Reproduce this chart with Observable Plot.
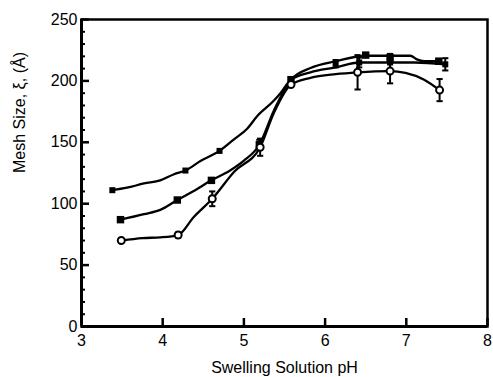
<!DOCTYPE html>
<html><head><meta charset="utf-8">
<script src="https://cdn.jsdelivr.net/npm/d3@7"></script>
<script src="https://cdn.jsdelivr.net/npm/@observablehq/plot@0.6"></script>
<style>body{margin:0;background:#fff}</style>
</head><body><div id="chart"></div>
<script>
// ---- data ----
// Series A (small filled squares)
const phA   = [3.38, 4.28, 4.70, 5.58, 6.13, 6.42, 6.80, 7.48];
const meshA = [111, 127, 143, 201, 214, 215, 215, 213.5];
const errA  = [0, 0, 0, 0, 3, 4, 0, 5];
const linePhA   = [3.38, 3.56, 3.77, 3.97, 4.14, 4.28, 4.47, 4.70, 4.87, 5.04, 5.16, 5.37, 5.45, 5.58, 5.82, 6.13, 6.42, 6.80, 7.10, 7.48];
const lineMeshA = [111, 113, 116.5, 119, 124, 127, 135, 143, 152, 161, 171, 184, 190, 201, 207, 211, 215, 215, 215, 213.5];
// Series B (filled squares)
const phB   = [3.48, 4.18, 4.60, 5.19, 5.58, 6.50, 6.80, 7.40];
const meshB = [87, 103, 119, 148, 201, 221, 219, 216];
const errB  = [0, 0, 0, 4, 0, 0, 3, 2];
const linePhB   = [3.48, 3.77, 3.97, 4.18, 4.40, 4.60, 4.83, 5.00, 5.19, 5.37, 5.58, 5.82, 6.13, 6.50, 6.80, 7.05, 7.13, 7.22, 7.40];
const lineMeshB = [87, 91.5, 95, 103, 111, 119, 127, 135, 148, 176, 201, 210.5, 216, 220.5, 220.5, 220.5, 217.5, 216, 216];
// Series C (open circles)
const phC   = [3.49, 4.19, 4.61, 5.20, 5.58, 6.40, 6.80, 7.41];
const meshC = [70, 74.5, 104, 146, 197, 207, 208, 192.5];
const errC  = [0, 2, 6, 7, 0, 14, 10, 9];
const linePhC   = [3.49, 3.75, 3.97, 4.19, 4.38, 4.61, 4.88, 5.20, 5.37, 5.58, 5.82, 6.13, 6.40, 6.80, 6.99, 7.22, 7.41];
const lineMeshC = [70, 72, 72.6, 74.5, 89, 104, 126, 146, 174, 197, 202.5, 205.5, 207, 208, 206.5, 201, 192.5];

const xTicks = [3, 4, 5, 6, 7, 8];
const yTicks = [0, 50, 100, 150, 200, 250];
const yMinor = [10, 20, 30, 40, 60, 70, 80, 90, 110, 120, 130, 140, 160, 170, 180, 190, 210, 220, 230, 240];
const xLabel = "Swelling Solution pH";
const yLabel = "Mesh Size, ξ, (Å)";

// ---- build tables ----
const pts = (ph, mesh, err, s) => ph.map((p, i) => ({ph: p, mesh: mesh[i], err: err[i], s}));
const A = pts(phA, meshA, errA, "A"), B = pts(phB, meshB, errB, "B"), C = pts(phC, meshC, errC, "C");
const ln = (ph, mesh, s) => ph.map((p, i) => ({ph: p, mesh: mesh[i], s}));
const lines = [...ln(linePhA, lineMeshA, "A"), ...ln(linePhB, lineMeshB, "B"), ...ln(linePhC, lineMeshC, "C")];
const errs = [...A, ...B, ...C].filter(d => d.err > 0);

const W = 493, H = 377, mL = 81, mR = 6, mT = 19, mB = 51;
const plotW = W - mL - mR, plotH = H - mT - mB;
const cap = {draw(ctx, size) { const w = Math.sqrt(size) / 2; ctx.moveTo(-w, 0); ctx.lineTo(w, 0); }};

const chart = Plot.plot({
  width: W, height: H,
  marginLeft: mL, marginRight: mR, marginTop: mT, marginBottom: mB,
  style: {fontFamily: "'Liberation Sans', Arial, sans-serif", fontSize: "16px", background: "white", color: "black"},
  x: {domain: [3, 8]},
  y: {domain: [0, 250]},
  marks: [
    Plot.ruleY(yMinor, {y: d => d, insetRight: plotW - 4, stroke: "black", strokeWidth: 2}),
    Plot.ruleY(yTicks, {y: d => d, insetRight: plotW - 8, stroke: "black", strokeWidth: 2.5}),
    Plot.ruleX(xTicks, {x: d => d, insetTop: plotH - 8, stroke: "black", strokeWidth: 2.5}),
    Plot.frame({stroke: "black", strokeWidth: 2.5}),
    Plot.ruleX([xTicks[0]], {stroke: "black", strokeWidth: 3}),
    Plot.ruleY([yTicks[0]], {stroke: "black", strokeWidth: 3}),
    Plot.axisX(xTicks, {tickSize: 0, tickPadding: 8, fontSize: 16, label: null}),
    Plot.axisY(yTicks, {tickSize: 0, tickPadding: 4, fontSize: 16, label: null}),
    Plot.text([xLabel], {text: d => d, frameAnchor: "bottom", dy: 41, fontSize: 16, lineAnchor: "middle"}),
    Plot.text([yLabel], {text: d => d, frameAnchor: "left", dx: -62, rotate: -90, fontSize: 16, lineAnchor: "middle"}),
    Plot.line(lines, {x: "ph", y: "mesh", z: "s", stroke: "black", strokeWidth: 2.3, curve: "monotone-x"}),
    Plot.ruleX(errs, {x: "ph", y1: d => d.mesh - d.err, y2: d => d.mesh + d.err, stroke: "black", strokeWidth: 2}),
    Plot.dot(errs, {x: "ph", y: d => d.mesh - d.err, symbol: cap, r: 3.5, stroke: "black", strokeWidth: 2}),
    Plot.dot(errs, {x: "ph", y: d => d.mesh + d.err, symbol: cap, r: 3.5, stroke: "black", strokeWidth: 2}),
    Plot.dot(A, {x: "ph", y: "mesh", symbol: "square", r: 3.4, fill: "black", stroke: "none"}),
    Plot.dot(B, {x: "ph", y: "mesh", symbol: "square", r: 4.2, fill: "black", stroke: "none"}),
    Plot.dot(C, {x: "ph", y: "mesh", symbol: "circle", r: 3.5, fill: "white", stroke: "black", strokeWidth: 2})
  ]
});
document.getElementById("chart").appendChild(chart);
</script></body></html>
